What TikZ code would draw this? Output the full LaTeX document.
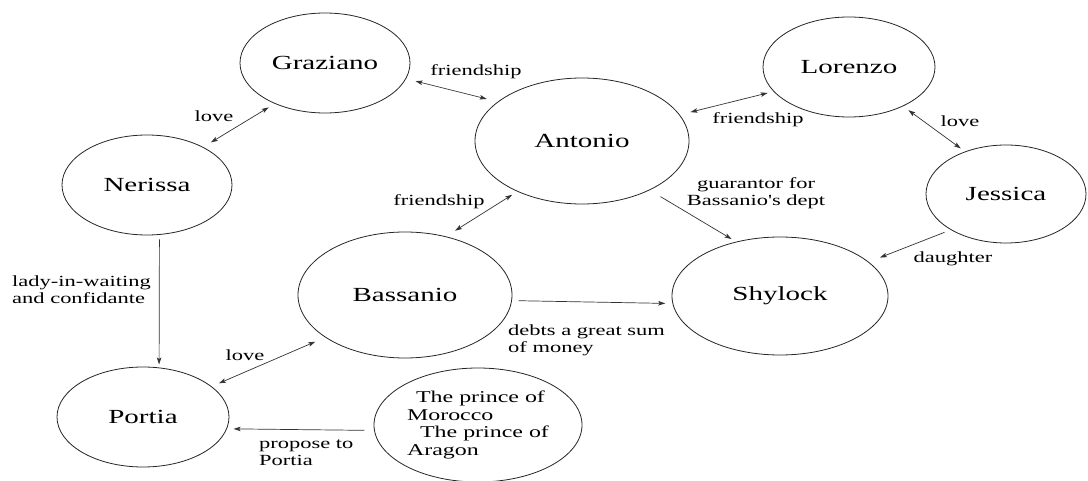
\documentclass[tikz,border=0pt]{standalone}
\usepackage{fontspec}
\usepackage{graphicx}
\setmainfont{Liberation Serif}
\newcommand{\W}[1]{\scalebox{1.45}[1]{#1}}
\usetikzlibrary{shapes.geometric,arrows.meta}
\tikzset{
  person/.style={ellipse, draw=black!85, line width=0.8bp, inner sep=0pt,
    font=\fontsize{20bp}{22bp}\selectfont},
  lbl/.style={inner sep=0pt, font=\fontsize{15.5bp}{17bp}\selectfont},
  rel/.style={draw=black!80, line width=0.7bp},
  bi/.style={rel, {Stealth[length=7bp,width=4.5bp,inset=1.5bp]}-{Stealth[length=7bp,width=4.5bp,inset=1.5bp]}},
  uni/.style={rel, -{Stealth[length=7bp,width=4.5bp,inset=1.5bp]}}
}
\begin{document}
\begin{tikzpicture}[x=1bp,y=-1bp]
\useasboundingbox[fill=white] (0,0) rectangle (1088,481);
% nodes
\node[person, minimum width=170bp, minimum height=100bp] (gra) at (325,63) {\W{Graziano}};
\node[person, minimum width=172bp, minimum height=100bp] (lor) at (849,67) {\W{Lorenzo}};
\node[person, minimum width=214bp, minimum height=126bp] (ant) at (582,141) {\W{Antonio}};
\node[person, minimum width=160bp, minimum height=98bp] (jes) at (1006,194) {\W{Jessica}};
\node[person, minimum width=170bp, minimum height=100bp] (ner) at (147,185) {\W{Nerissa}};
\node[person, minimum width=172bp, minimum height=100bp] (por) at (143,417) {\W{Portia}};
\node[person, minimum width=214bp, minimum height=126bp] (bas) at (405,295) {\W{Bassanio}};
\node[person, minimum width=216bp, minimum height=118bp] (shy) at (780,296) {\W{Shylock}};
\node[person, minimum width=208bp, minimum height=114bp, align=left,
  font=\fontsize{16.5bp}{17.5bp}\selectfont] (pri) at (478,425)
  {\hspace{9bp}\W{The prince of}\\\W{Morocco}\\\hspace{13bp}\W{The prince of}\\\W{Aragon}};
% connectors
\draw[bi, shorten <=9.7bp, shorten >=11.3bp] (gra.-11) -- (ant.155);
\draw[bi, shorten <=7bp, shorten >=9bp] (gra.219) -- (ner.34);
\draw[bi, shorten <=6bp, shorten >=11bp] (lor.198) -- (ant.15);
\draw[bi, shorten <=6.6bp, shorten >=5.2bp] (lor.-36) -- (jes.134);
\draw[uni, shorten <=12.5bp, shorten >=5.2bp] (ant.-36) -- (shy.129);
\draw[uni, shorten <=6.7bp, shorten >=12bp] (jes.213) -- (shy.21);
\draw[bi, shorten <=6bp, shorten >=10.7bp] (ant.218) -- (bas.55);
\draw[uni, shorten <=6.6bp, shorten >=7.2bp] (bas.-3.5) -- (shy.-176.5);
\draw[uni, shorten <=4.6bp, shorten >=3bp] (ner.-76.5) -- (por.72);
\draw[bi, shorten <=10.8bp, shorten >=7.9bp] (bas.208.6) -- (por.24.4);
\draw[uni, shorten <=9.8bp, shorten >=6.6bp] (pri.-177.2) -- (por.-8.2);
% labels
\node[lbl] (l1) at (476,72) {\W{friendship}};
\node[lbl] (l2) at (214,116) {\W{love}};
\node[lbl] (l3) at (758,120) {\W{friendship}};
\node[lbl] (l4) at (960,121) {\W{love}};
\node[lbl, align=center] (l5) at (756,193) {\W{guarantor for}\\\W{Bassanio\textquotesingle s dept}};
\node[lbl] (l6) at (953,259) {\W{daughter}};
\node[lbl] (l7) at (439,202) {\W{friendship}};
\node[lbl, align=left, anchor=west] (l8) at (508,340.5) {\W{debts a great sum}\\\W{of money}};
\node[lbl, align=left, anchor=west] (l9) at (12,290) {\W{lady-in-waiting}\\\W{and confidante}};
\node[lbl] (l10) at (245,355) {\W{love}};
\node[lbl, align=left, anchor=west] (l11) at (259,452.5) {\W{propose to}\\\W{Portia}};
\end{tikzpicture}
\end{document}
